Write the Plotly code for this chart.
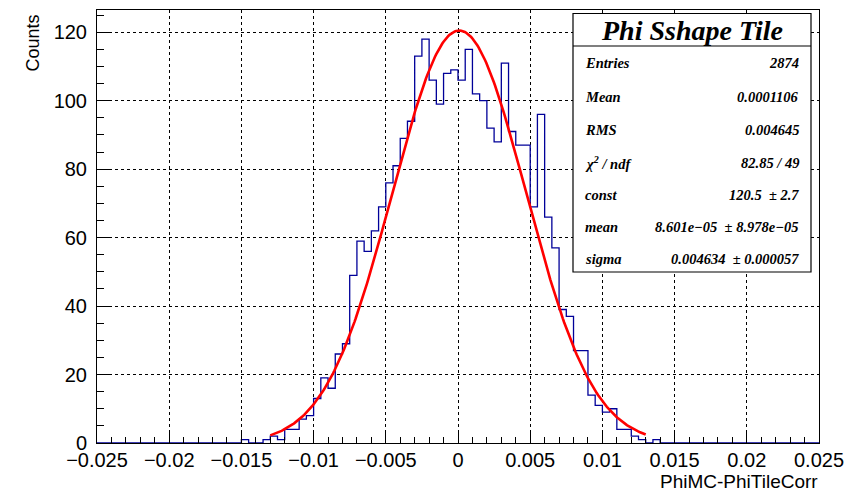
import numpy as np
import plotly.graph_objects as go

# ---------------- data ----------------
x_min, x_max, n_bins = -0.025, 0.025, 100
# bin contents, 100 bins of width 0.0005 from -0.025 to 0.025
counts = ([0] * 20 +
          [1, 0, 0, 1, 2, 1, 4, 4, 7, 8,
           13, 19, 16, 26, 29, 49, 59, 56, 62, 69,
           76, 81, 89, 94, 113, 118, 106, 99, 108, 109,
           106, 115, 102, 100, 92, 88, 111, 91, 87, 87,
           69, 96, 66, 57, 39, 37, 27, 27, 14, 11,
           9, 10, 4, 4, 2, 1, 0, 1] +
          [0] * 22)

# Gaussian fit parameters (from the stats box)
fit_const, fit_mean, fit_sigma = 120.5, 8.601e-05, 0.004634
fit_range = [-0.013, 0.013]

x_tickvals = [-0.025, -0.02, -0.015, -0.01, -0.005, 0, 0.005, 0.01, 0.015, 0.02, 0.025]
x_ticktext = ["\u22120.025", "\u22120.02", "\u22120.015", "\u22120.01", "\u22120.005", "0",
              "0.005", "0.01", "0.015", "0.02", "0.025"]
y_tickvals = [0, 20, 40, 60, 80, 100, 120]

stats_title = "Phi Sshape Tile"
stats_labels = ["Entries", "Mean", "RMS", "\u03c7<sup>2</sup> / ndf", "const", "mean", "sigma"]
stats_values = ["2874", "0.0001106", "0.004645", "82.85 / 49", "120.5  \u00b1 2.7",
                "8.601e\u221205  \u00b1 8.978e\u221205", "0.004634  \u00b1 0.000057"]

# ---------------- figure ----------------
edges = np.linspace(x_min, x_max, n_bins + 1)
step_y = list(counts) + [counts[-1]]

fx = np.linspace(fit_range[0], fit_range[1], 300)
fy = fit_const * np.exp(-0.5 * ((fx - fit_mean) / fit_sigma) ** 2)

fig = go.Figure()
fig.add_trace(go.Scatter(x=edges, y=step_y, mode="lines", line_shape="hv",
                         line=dict(color="#000099", width=1.3), hoverinfo="skip"))
fig.add_trace(go.Scatter(x=fx, y=fy, mode="lines",
                         line=dict(color="#ff0000", width=2.6), hoverinfo="skip"))

L, R, T, B = 97, 28, 10, 50
W, H = 847, 493
pw, ph = W - L - R, H - T - B

def px2x(px):
    return (px - L) / pw

def py2y(py):
    return (H - B - py) / ph

tick_font = dict(family="Liberation Sans, Arial, sans-serif", size=20, color="black")

fig.update_layout(
    width=W, height=H,
    margin=dict(l=L, r=R, t=T, b=B, autoexpand=False),
    paper_bgcolor="white", plot_bgcolor="white",
    showlegend=False,
    xaxis=dict(range=[x_min, x_max], tickmode="array", tickvals=x_tickvals, ticktext=x_ticktext,
               ticks="inside", ticklen=12, tickwidth=1, tickcolor="black",
               showline=True, linecolor="black", linewidth=1, mirror=True,
               showgrid=True, gridcolor="black", gridwidth=1, griddash="dot",
               zeroline=False, tickfont=tick_font, automargin=False, ticklabelstandoff=-1,
               minor=dict(tickmode="linear", tick0=x_min, dtick=0.001, ticks="inside",
                          ticklen=6, tickcolor="black", showgrid=False)),
    yaxis=dict(range=[0, 126.5], tickmode="array", tickvals=y_tickvals,
               ticks="inside", ticklen=12, tickwidth=1, tickcolor="black",
               showline=True, linecolor="black", linewidth=1, mirror=True,
               showgrid=True, gridcolor="black", gridwidth=1, griddash="dot",
               zeroline=False, tickfont=tick_font, automargin=False, ticklabelstandoff=5,
               minor=dict(tickmode="linear", tick0=0, dtick=5, ticks="inside",
                          ticklen=7, tickcolor="black", showgrid=False)),
)

# axis titles
fig.add_annotation(text="PhiMC-PhiTileCorr", xref="paper", yref="paper",
                   x=px2x(819), y=py2y(493), xanchor="right", yanchor="bottom", showarrow=False,
                   borderpad=0,
                   font=dict(family="Liberation Sans, Arial, sans-serif", size=19, color="black"))
fig.add_annotation(text="Counts", xref="paper", yref="paper", textangle=-90,
                   x=px2x(32), y=py2y(13), xanchor="center", yanchor="top", showarrow=False,
                   font=dict(family="Liberation Sans, Arial, sans-serif", size=18, color="black"))

# stats box
bx0, bx1, by0, by1, bsep = px2x(573), px2x(811), py2y(272), py2y(13.5), py2y(46)
fig.add_shape(type="rect", xref="paper", yref="paper", x0=bx0, x1=bx1, y0=by0, y1=by1,
              fillcolor="white", line=dict(color="black", width=1.2), layer="above")
fig.add_shape(type="line", xref="paper", yref="paper", x0=bx0, x1=bx1, y0=bsep, y1=bsep,
              line=dict(color="black", width=1.2), layer="above")
serif = "Liberation Serif, Times New Roman, serif"
fig.add_annotation(text=stats_title, xref="paper", yref="paper", x=(bx0 + bx1) / 2, y=py2y(30),
                   xanchor="center", yanchor="middle", showarrow=False,
                   font=dict(family=serif, size=28, color="black", style="italic", weight="bold"))
row_py = [63.5, 97, 130, 163, 194.5, 226.5, 258.5]
for lab, val, rp in zip(stats_labels, stats_values, row_py):
    fig.add_annotation(text=lab, xref="paper", yref="paper", x=px2x(583), y=py2y(rp),
                       xanchor="left", yanchor="middle", showarrow=False,
                       font=dict(family=serif, size=14.5, color="black", style="italic", weight="bold"))
    fig.add_annotation(text=val, xref="paper", yref="paper", x=px2x(801), y=py2y(rp),
                       xanchor="right", yanchor="middle", showarrow=False,
                       font=dict(family=serif, size=14.5, color="black", style="italic", weight="bold"))

fig.write_html("out.html")
